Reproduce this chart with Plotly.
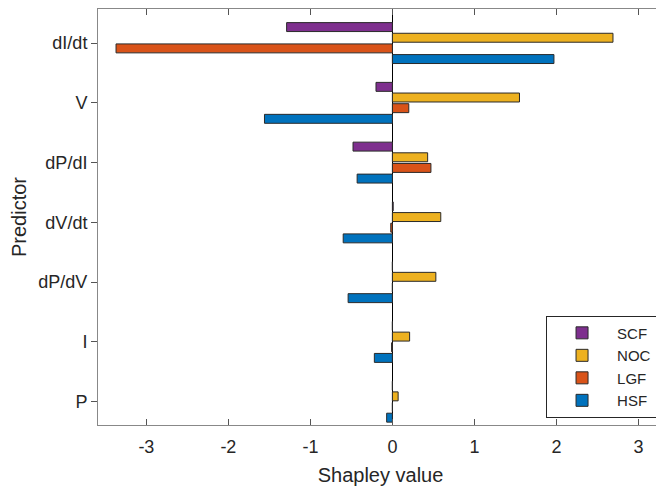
import plotly.graph_objects as go

predictors = ["dI/dt", "V", "dP/dI", "dV/dt", "dP/dV", "I", "P"]
series_names = ["SCF", "NOC", "LGF", "HSF"]
scf = [-1.29, -0.20, -0.48, 0.01, 0.0, 0.0, 0.0]
noc = [2.69, 1.55, 0.43, 0.59, 0.53, 0.21, 0.07]
lgf = [-3.37, 0.20, 0.47, -0.02, 0.0, -0.01, 0.0]
hsf = [1.97, -1.56, -0.43, -0.60, -0.54, -0.22, -0.07]
x_ticks = [-3, -2, -1, 0, 1, 2, 3]

colors = {"SCF": "#7E2F8E", "NOC": "#EDB120", "LGF": "#D95319", "HSF": "#0072BD"}
values = {"SCF": scf, "NOC": noc, "LGF": lgf, "HSF": hsf}

fig = go.Figure()
# plotly stacks grouped horizontal bars bottom-up in trace order
for name in reversed(series_names):
    fig.add_trace(go.Bar(
        y=predictors, x=values[name], name=name, orientation="h",
        marker=dict(color=colors[name], line=dict(color="#2a2a2a", width=1)),
    ))

font = "Liberation Sans, Arial, sans-serif"
# page body has an 8px default margin, so the figure is sized to the remaining area
fig.update_layout(
    width=656, height=478,
    margin=dict(l=90, r=1, t=1, b=61),
    paper_bgcolor="white", plot_bgcolor="white",
    barmode="group", bargap=0.287, bargroupgap=0.16,
    font=dict(family=font, size=18, color="#262626"),
    showlegend=True,
    legend=dict(
        x=0.793, y=0.263, xanchor="left", yanchor="top",
        traceorder="reversed",
        bordercolor="#262626", borderwidth=1, bgcolor="white",
        font=dict(size=15, color="#262626"),
        itemwidth=60, tracegroupgap=0,
    ),
    xaxis=dict(
        range=[-3.59, 3.30], tickvals=x_ticks, ticktext=[str(v) for v in x_ticks],
        ticks="inside", ticklen=6, tickcolor="#555", mirror="ticks",
        showline=True, linecolor="#888", linewidth=1,
        showgrid=False, zeroline=True, zerolinecolor="#000", zerolinewidth=1,
        title=dict(text="Shapley value", font=dict(size=20), standoff=13),
        tickfont=dict(size=18), automargin=False, ticklabelstandoff=5,
    ),
    yaxis=dict(
        categoryorder="array", categoryarray=list(reversed(predictors)),
        range=[-0.39, 6.57],
        ticks="outside", ticklen=6, tickcolor="#555", mirror=True,
        showline=True, linecolor="#888", linewidth=1,
        showgrid=False,
        title=dict(text="Predictor", font=dict(size=20), standoff=8),
        tickfont=dict(size=18), automargin=False,
    ),
)

fig.write_html("out.html")
